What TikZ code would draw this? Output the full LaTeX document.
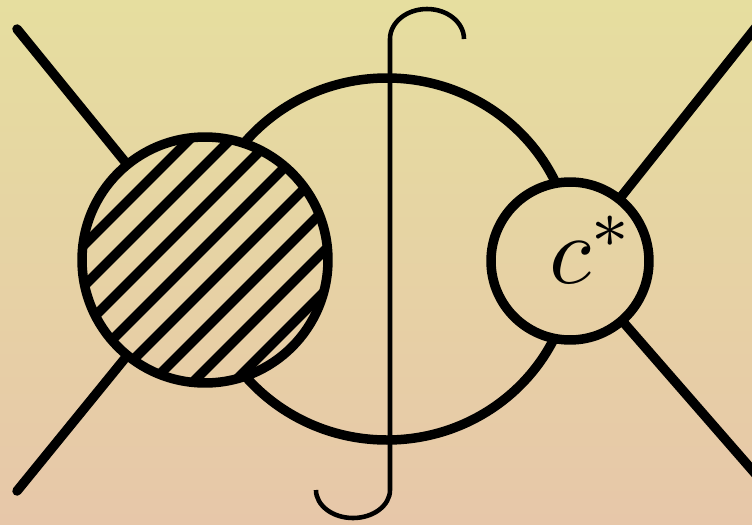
\documentclass[tikz,border=0pt]{standalone}
\usepackage{tikz}
\usepackage{xcolor}
\usepackage{amsmath}

\definecolor{bgtop}{RGB}{230,222,159}
\definecolor{bgbottom}{RGB}{231,199,169}

\begin{document}
\begin{tikzpicture}[
    x=0.02cm, y=-0.02cm,
    backdrop/.style={top color=bgtop, bottom color=bgbottom},
    blob/.style={circle, draw=black, line width=5.4pt, inner sep=0pt,
        path picture={\fill[backdrop] (bgtl) rectangle (bgbr);}},
    leg/.style={line width=5.4pt, line cap=round},
    cutline/.style={line width=2.6pt},
    hatch/.style={line width=5.6pt}
]
    % Background
    \coordinate (bgtl) at (0,0);
    \coordinate (bgbr) at (752,525);
    \fill[backdrop] (bgtl) rectangle (bgbr);
    \useasboundingbox (bgtl) rectangle (bgbr);

    % Centres and free ends of the legs
    \coordinate (hc) at (205,260);
    \coordinate (sc) at (570,261);
    \coordinate (inTL) at (17,29);
    \coordinate (inBL) at (17,491);
    \coordinate (outTR) at (780,-3);
    \coordinate (outBR) at (780,502);

    % Loop
    \draw[line width=5.4pt] (387,259) ellipse [x radius=186, y radius=181];

    % External legs
    \draw[leg] (inTL) -- (hc);
    \draw[leg] (inBL) -- (hc);
    \draw[leg] (sc) -- (outTR);
    \draw[leg] (sc) -- (outBR);

    % Hatched blob
    \node[blob, minimum size=4.92cm] (hatchblob) at (hc) {};
    \begin{scope}
        \clip (hc) circle [radius=123];
        \foreach \c in {206,247,...,780}
            \draw[hatch] (\c-400,400) -- (\c,0);
    \end{scope}

    % Counterterm vertex
    \node[blob, minimum size=3.16cm] (cstar) at (sc) {};
    \node[scale=5.5, anchor=base, inner sep=0pt] (clabel) at ([yshift=-0.44cm]cstar.center) {$c\rlap{$^{*}$}$};

    % Cut
    \coordinate (cuttop) at (390,39);
    \coordinate (cutbot) at (390,490);
    \draw[cutline] (cuttop) arc [start angle=180, end angle=360, x radius=37, y radius=30];
    \draw[cutline] (cuttop) -- (cutbot) arc [start angle=0, end angle=180, x radius=37, y radius=28];
\end{tikzpicture}
\end{document}
